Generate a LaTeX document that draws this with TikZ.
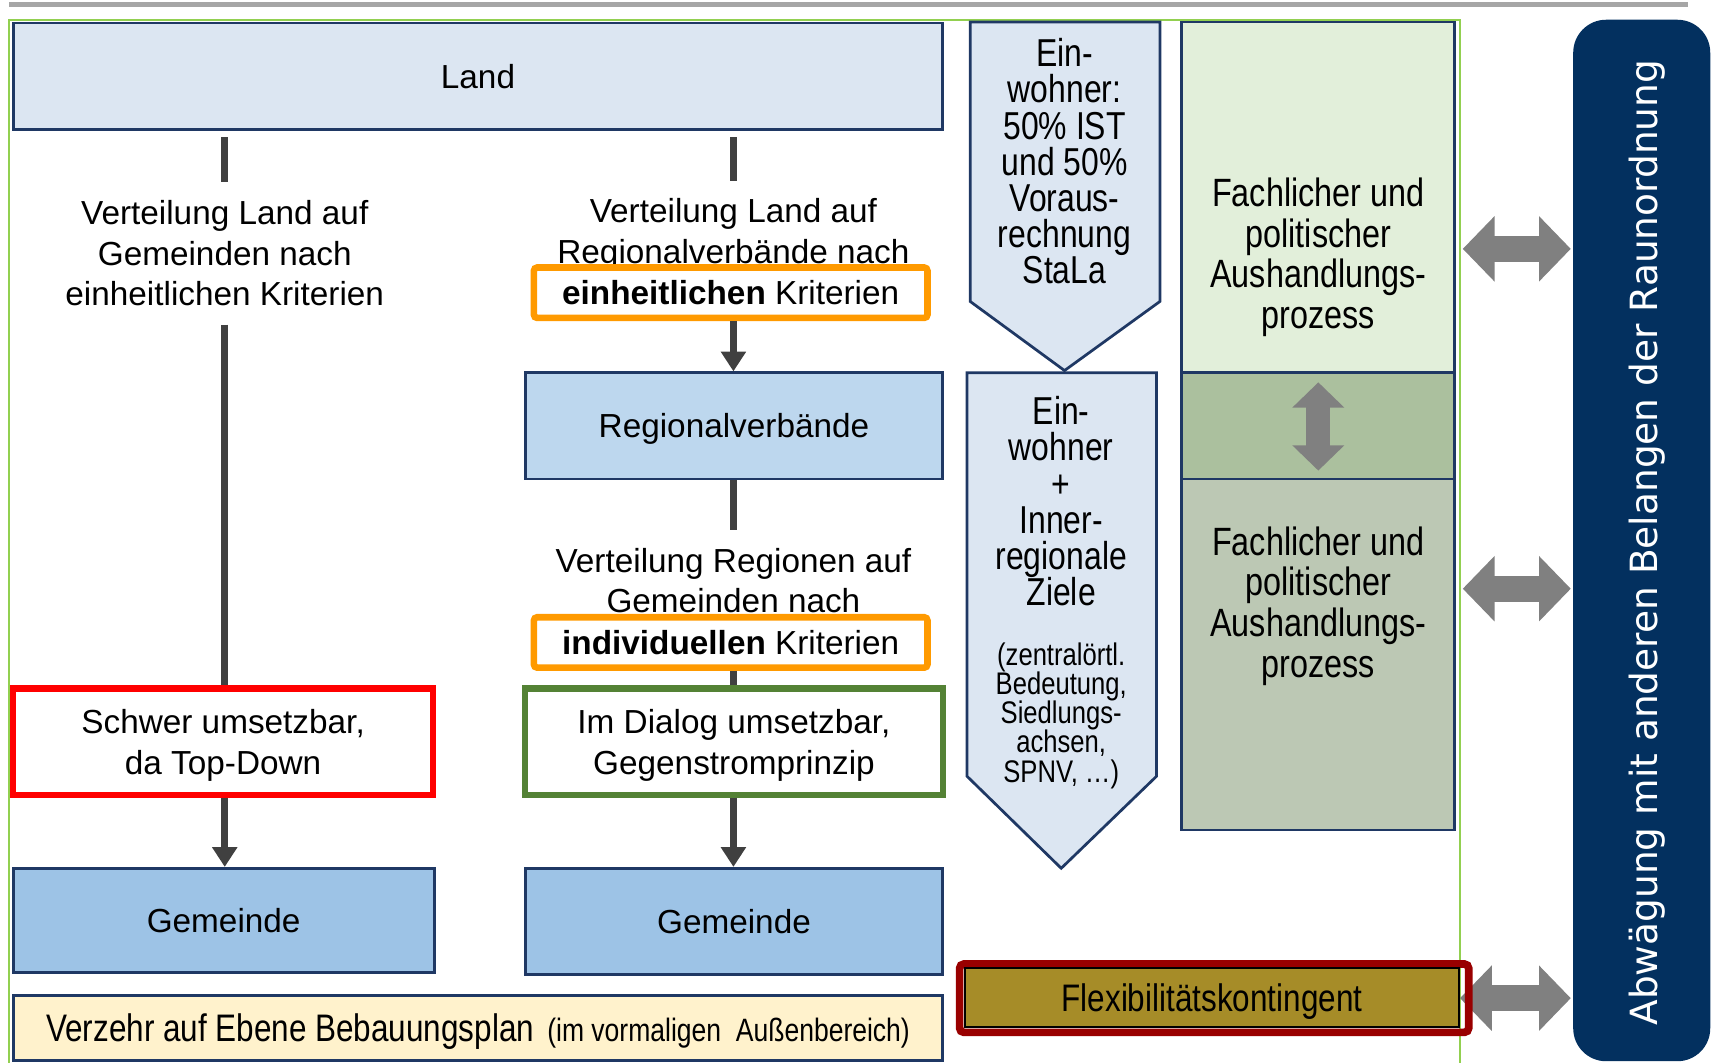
\documentclass[tikz,border=0pt]{standalone}
\usepackage{fontspec}
\setmainfont{Liberation Sans}
\newfontfamily\narrowf[FakeStretch=0.82]{Liberation Sans}
\newfontfamily\dejavuf{DejaVu Sans}
\usetikzlibrary{arrows.meta}
\definecolor{navyb}{HTML}{1F3864}
\definecolor{landc}{HTML}{DCE6F2}
\definecolor{regc}{HTML}{BDD7EE}
\definecolor{gemc}{HTML}{9DC3E6}
\definecolor{verzc}{HTML}{FFF2CC}
\definecolor{greenA}{HTML}{E2EFDA}
\definecolor{greenB}{HTML}{ABC09E}
\definecolor{greenC}{HTML}{BCC8B4}
\definecolor{arrgray}{HTML}{808080}
\definecolor{conngray}{HTML}{404040}
\definecolor{abwc}{HTML}{03305F}
\definecolor{flexred}{HTML}{990000}
\definecolor{flexfill}{HTML}{A68C28}
\definecolor{orangec}{HTML}{FF9A00}
\definecolor{dlggreen}{HTML}{548235}
\definecolor{framegreen}{HTML}{92D050}
\definecolor{topgray}{HTML}{A6A6A6}
\newcommand\fsMain{\fontsize{30.4}{37}\selectfont\lineskiplimit=-100pt}
\newcommand\fsChev{\narrowf\fontsize{35.5}{33}\selectfont\lineskiplimit=-100pt}
\newcommand\fsChevSmall{\narrowf\fontsize{28.5}{26.5}\selectfont\lineskiplimit=-100pt}
\newcommand\fsFach{\narrowf\fontsize{36}{37}\selectfont\lineskiplimit=-100pt}
\begin{document}
\begin{tikzpicture}[x=1pt,y=-1pt,
  box/.style={draw=navyb, line width=2.5pt, inner sep=0pt, align=center, font=\fsMain, text depth=0pt},
  txt/.style={inner sep=0pt, align=center, font=\fsMain, text depth=0pt},
  obox/.style={draw=orangec, line width=6pt, fill=white, rounded corners=3pt, inner sep=0pt,
    minimum width=359pt, minimum height=46pt, font=\fsMain},
  conn/.style={draw=conngray, line width=6.5pt},
  arr/.style={conn, -{Triangle[length=18pt,width=22pt]}},
  harr/.style={draw=arrgray, line width=24pt, {Triangle[length=29pt,width=58pt]}-{Triangle[length=29pt,width=58pt]}},
  varr/.style={draw=arrgray, line width=22pt, {Triangle[length=23pt,width=46pt]}-{Triangle[length=23pt,width=46pt]}},
  chev/.style={draw=navyb, line width=2.5pt, fill=landc, line join=miter},
  gbox/.style={draw=navyb, line width=2.5pt, inner sep=0pt, minimum width=249pt},
]
\useasboundingbox (0,0) rectangle (1568,969);
% top rule and frame
\draw[topgray, line width=4pt] (8,4) -- (1540,4);
\draw[framegreen, line width=1.5pt] (8,990) -- (8,18) -- (1332,18) -- (1332,990);

% Land
\node[box, fill=landc, minimum width=848pt, minimum height=97pt] (land) at (436,69.5) {Land};

% left column
\node[txt, minimum height=130pt] (t1) at (205,231) {Verteilung Land auf\\Gemeinden nach\\einheitlichen Kriterien};
\node[draw=red, line width=6pt, inner sep=0pt, align=center, font=\fsMain, text depth=0pt, minimum width=383pt, minimum height=97pt] (red) at (203.5,676.5) {Schwer umsetzbar,\\da Top-Down};
\node[box, fill=gemc, minimum width=384pt, minimum height=95pt] (gem1) at (204,839.5) {Gemeinde};

\draw[conn] ([yshift=-6pt]land.south -| t1.north) -- (t1.north);
\draw[conn] (t1.south) -- (t1.south |- red.north);
\draw[arr] (red.south -| t1.south) -- (gem1.north -| t1.south);

% right column
\node[txt, minimum height=91pt] (t2) at (669,210.5) {Verteilung Land auf\\Regionalverbände nach};
\node[obox] (o1) at (666.5,267) {\textbf{einheitlichen} Kriterien};
\node[box, fill=regc, minimum width=381pt, minimum height=97pt] (reg) at (669.5,388.5) {Regionalverbände};
\node[txt, minimum height=91pt] (t3) at (669,529.5) {Verteilung Regionen auf\\Gemeinden nach};
\node[obox] (o2) at (666.5,586) {\textbf{individuellen} Kriterien};
\node[draw=dlggreen, line width=6pt, fill=white, inner sep=0pt, align=center, font=\fsMain, text depth=0pt, minimum width=381pt, minimum height=97pt] (dlg) at (669.5,676.5) {Im Dialog umsetzbar,\\Gegenstromprinzip};
\node[box, fill=gemc, minimum width=381pt, minimum height=97pt] (gem2) at (669.5,840.5) {Gemeinde};

\draw[conn] ([yshift=-6pt]land.south -| t2.north) -- (t2.north);
\draw[arr] (o1.south -| t2.north) -- (reg.north -| t2.north);
\draw[conn] (reg.south -| t3.north) -- (t3.north);
\draw[conn] (o2.south -| t3.north) -- (dlg.north -| t3.north);
\draw[arr] (dlg.south -| t3.north) -- (gem2.north -| t3.north);

% Verzehr
\node[box, fill=verzc, minimum width=848pt, minimum height=59pt] (verz) at (436,937.5)
  {{\narrowf\fontsize{35}{40}\selectfont Verzehr auf Ebene Bebauungsplan}\hspace{12pt}{\narrowf\fontsize{29.5}{40}\selectfont (im vormaligen\ \ Außenbereich)}};

% chevrons
\draw[chev] (885,20) -- (1058,20) -- (1058,275) -- (971,338) -- (885,275) -- cycle;
\node[txt, font=\fsChev] (ch1) at (971,147) {Ein-\\wohner:\\50\% IST\\und 50\%\\Voraus-\\rechnung\\StaLa};
\draw[chev] (882,340) -- (1055,340) -- (1055,708) -- (968,792) -- (882,708) -- cycle;
\node[txt, font=\fsChev] (ch2) at (968,457) {Ein-\\wohner\\+\\Inner-\\regionale\\Ziele};
\node[txt, font=\fsChevSmall] (ch2s) at (968,650) {(zentralörtl.\\Bedeutung,\\Siedlungs-\\achsen,\\SPNV, …)};

% green boxes
\node[gbox, fill=greenA, minimum height=320pt] (gA) at (1202.5,180) {};
\node[gbox, fill=greenB, minimum height=97pt] (gB) at (1202.5,388.5) {};
\node[gbox, fill=greenC, minimum height=320pt] (gC) at (1202.5,597) {};
\node[txt, font=\fsFach] (fA) at (1202.5,231) {Fachlicher und\\politischer\\Aushandlungs-\\prozess};
\node[txt, font=\fsFach] (fC) at (1202.5,549) {Fachlicher und\\politischer\\Aushandlungs-\\prozess};
\draw[varr] ([yshift=-10pt]gB.north) -- ([yshift=9pt]gB.south);

% Abwaegung box
\node[fill=abwc, rounded corners=30pt, inner sep=0pt, minimum width=125pt, minimum height=950pt] (abw) at (1497.5,493) {};
\node[rotate=90, text=white, inner sep=0pt, font={\dejavuf\fontsize{34.2}{40}\selectfont}] (abwt) at (1502,495) {Abwägung mit anderen Belangen der Raunordnung};

% horizontal arrows
\draw[harr] ([xshift=6pt,yshift=4pt]fA.center -| gA.east) -- ([xshift=-2pt,yshift=4pt]fA.center -| abw.west);
\draw[harr] ([xshift=6pt,yshift=12pt]fC.center -| gC.east) -- ([xshift=-2pt,yshift=12pt]fC.center -| abw.west);

% Flexibilitaetskontingent
\node[inner sep=0pt, minimum width=464pt, minimum height=62pt] (flexo) at (1107.5,910.5) {};
\draw[harr] ([xshift=-8pt]flexo.east) -- ([xshift=-2pt]flexo.east -| abw.west);
\draw[flexred, line width=7pt, rounded corners=4pt] (flexo.north west) rectangle (flexo.south east);
\node[draw=black, line width=2pt, fill=flexfill, inner sep=0pt, text depth=0pt, minimum width=451pt, minimum height=54pt, font={\narrowf\fontsize{35}{40}\selectfont}] (flex) at (1105.5,910) {Flexibilitätskontingent};
\end{tikzpicture}
\end{document}
